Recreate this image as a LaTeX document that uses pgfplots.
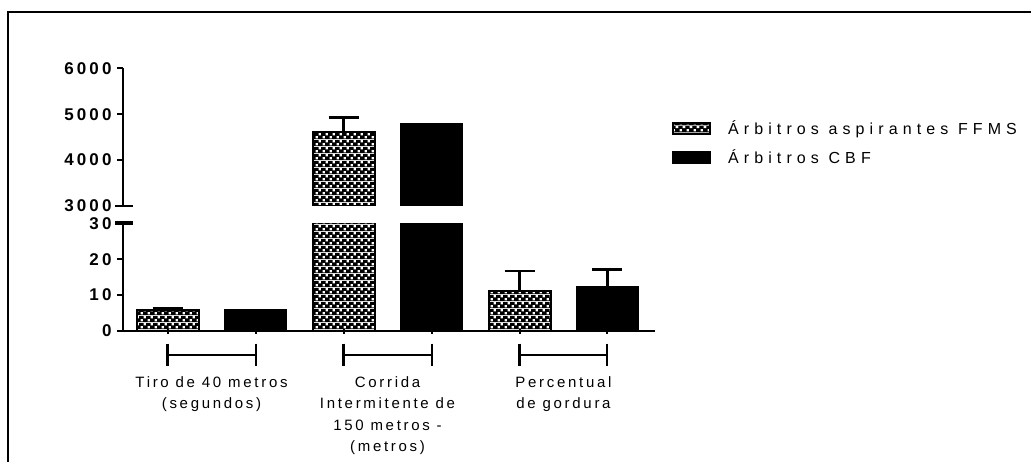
\documentclass[border=0pt]{standalone}
\usepackage{fontspec}
\setmainfont{Liberation Sans}
\newfontfamily\tickf[LetterSpace=18]{Liberation Sans}
\newfontfamily\labf[LetterSpace=18]{Liberation Sans}
\newfontfamily\legf[LetterSpace=32]{Liberation Sans}
\usepackage{pgfplots}
\usepackage{pgfplotstable}
\pgfplotsset{compat=1.18}
\usetikzlibrary{patterns}
\pgfdeclarepatterninherentlycolored{mycheck}{\pgfpointorigin}{\pgfqpoint{7pt}{7pt}}{\pgfqpoint{7pt}{7pt}}{%
 \pgfsetfillcolor{black}%
 \pgfpathrectangle{\pgfpointorigin}{\pgfqpoint{7pt}{7pt}}\pgfusepath{fill}%
 \pgfsetfillcolor{white}%
 \pgfpathrectangle{\pgfqpoint{0.6pt}{0.6pt}}{\pgfqpoint{2.6pt}{2.6pt}}%
 \pgfpathrectangle{\pgfqpoint{4.1pt}{4.1pt}}{\pgfqpoint{2.6pt}{2.6pt}}%
 \pgfusepath{fill}}

\pgfplotstableread{
x y e
0 5.8 0.4
2 4621 305
4 11.1 5.6
}\ffms
\pgfplotstableread{
x y e
1 5.8 0
3 4795 0
5 12.2 5.0
}\cbf

\pgfplotsset{common/.style={scale only axis, width=532pt, xmin=-0.506, xmax=5.54,
  ybar, bar width=62pt, bar shift=0pt,
  axis y line=left, axis line style={-, line width=2pt},
  tick style={line width=2pt, black}, tick align=outside, major tick length=6pt,
  yticklabel style={font=\tickf\bfseries\fontsize{17}{17}\selectfont, xshift=-2pt},
  /pgf/number format/assume math mode=true, /pgf/number format/1000 sep={},
  clip mode=individual},
  ffmsbar/.style={draw=black, line width=2pt, pattern=mycheck},
  cbfbar/.style={draw=black, fill=black, line width=1.5pt},
  errs/.style={error bars/y dir=plus, error bars/y explicit,
   error bars/error bar style={line width=2.2pt, black, solid},
   error bars/error mark options={rotate=90, mark size=15pt, line width=2.5pt, black}}}
\tikzset{catlab/.style={anchor=base, inner sep=0pt, align=center,
  font=\labf\fontsize{15}{21.5}\selectfont},
  brL/.style={line width=3pt}, brR/.style={line width=2pt}, brH/.style={line width=1.5pt}}

\begin{document}
\begin{tikzpicture}
\useasboundingbox (0pt,0pt) rectangle (1031pt,461pt);
\draw[line width=2pt] (8pt,-2pt) -- (8pt,449pt) -- (1033pt,449pt);

% lower axis 0-30
\begin{axis}[common, at={(123pt,130pt)}, anchor=south west, height=107.7pt, ymin=0, ymax=30,
  ytick={0,10,20,30}, axis x line=bottom, xtick={0,1,2,3,4,5}, xticklabels={},
  x axis line style={-, line width=2pt}]
\addplot[ffmsbar, restrict y to domain*=0:35, errs] table[x=x,y=y,y error=e]{\ffms};
\addplot[cbfbar, restrict y to domain*=0:35, errs] table[x=x,y=y,y error=e]{\cbf};
% break mark
\draw[line width=4pt] ([xshift=-8pt]rel axis cs:0,1) -- ([xshift=10pt]rel axis cs:0,1);
% brackets
\draw[brL] ([yshift=-12.6pt]axis cs:0,0) -- ([yshift=-35pt]axis cs:0,0);
\draw[brR] ([yshift=-12.6pt]axis cs:1,0) -- ([yshift=-35pt]axis cs:1,0);
\draw[brH] ([yshift=-24pt]axis cs:0,0) -- ([yshift=-24pt]axis cs:1,0);
\draw[brL] ([yshift=-12.6pt]axis cs:2,0) -- ([yshift=-35pt]axis cs:2,0);
\draw[brR] ([yshift=-12.6pt]axis cs:3,0) -- ([yshift=-35pt]axis cs:3,0);
\draw[brH] ([yshift=-24pt]axis cs:2,0) -- ([yshift=-24pt]axis cs:3,0);
\draw[brL] ([yshift=-12.6pt]axis cs:4,0) -- ([yshift=-35pt]axis cs:4,0);
\draw[brR] ([yshift=-12.6pt]axis cs:5,0) -- ([yshift=-35pt]axis cs:5,0);
\draw[brH] ([yshift=-24pt]axis cs:4,0) -- ([yshift=-24pt]axis cs:5,0);
\node[catlab] at ([yshift=-77.9pt]axis cs:0.5,0) {Tiro de 40 metros\\(segundos)};
\node[catlab] at ([yshift=-120.9pt]axis cs:2.5,0) {Corrida\\Intermitente de\\150 metros -\\(metros)};
\node[catlab] at ([yshift=-77.9pt]axis cs:4.5,0) {Percentual\\de gordura};
\end{axis}

% upper axis 3000-6000
\begin{axis}[common, at={(123pt,255pt)}, anchor=south west, height=137.7pt, ymin=3000, ymax=6000,
  ytick={3000,4000,5000,6000}, axis x line=none,
  legend style={draw=none, fill=none, at={(1.032,0.607)}, anchor=north west,
    inner sep=0pt, outer sep=0pt, row sep=14pt, column sep=17pt,
    nodes={inner sep=0pt, anchor=base west, text height=11pt, text depth=3pt},
    font=\legf\fontsize{16}{16}\selectfont},
  legend cell align=left]
\addplot[ffmsbar, errs, restrict y to domain=2000:9000, legend image code/.code={\fill[pattern=mycheck] (0pt,0pt) rectangle (37pt,11pt);}] table[x=x,y=y,y error=e]{\ffms};
\addplot[cbfbar, restrict y to domain=2000:9000, legend image code/.code={\fill[black] (0pt,0pt) rectangle (37pt,11pt);}] table[x=x,y=y]{\cbf};
\legend{Árbitros aspirantes FFMS, Árbitros CBF}
\draw[line width=2pt] ([xshift=-8pt]rel axis cs:0,0) -- ([xshift=10pt]rel axis cs:0,0);
\end{axis}
\end{tikzpicture}
\end{document}
